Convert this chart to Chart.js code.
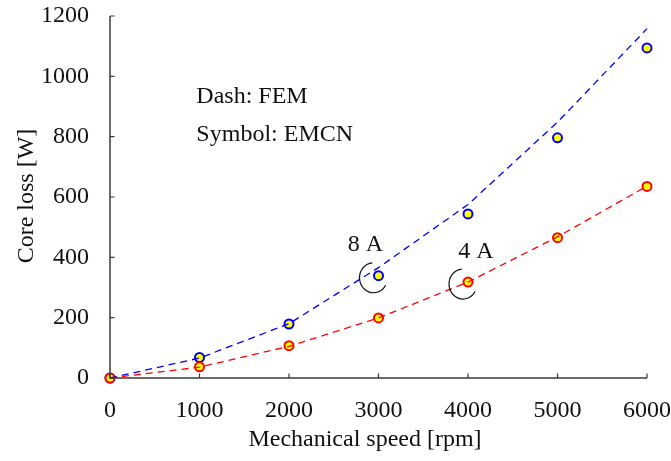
<!DOCTYPE html>
<html>
<head>
<meta charset="utf-8">
<script src="https://cdn.jsdelivr.net/npm/chart.js@4.4.1/dist/chart.umd.min.js"></script>
<style>
  html, body { margin: 0; padding: 0; background: #fff; }
  #wrap { width: 671px; height: 461px; }
</style>
</head>
<body>
<div id="wrap"><canvas id="c" width="671" height="461"></canvas></div>
<script>
// ---- data ----
const speeds = [0, 1000, 2000, 3000, 4000, 5000, 6000];
const fem8A  = [0, 66, 180, 366, 575, 848, 1158];
const emcn8A = [0, 68, 179, 339, 544, 796, 1094];
const fem4A  = [0, 36, 105, 199, 318, 468, 636];
const emcn4A = [0, 37, 107, 199, 318, 465, 635];
const xTicks = [0, 1000, 2000, 3000, 4000, 5000, 6000];
const yTicks = [0, 200, 400, 600, 800, 1000, 1200];
const xTitle = 'Mechanical speed [rpm]';
const yTitle = 'Core loss [W]';
const noteLines = ['Dash: FEM', 'Symbol: EMCN'];
const noteAnchorX = 965;
const noteAnchorY = [932, 806];
const currentLabels = ['8 A', '4 A'];
const currentAtSpeed = [3000, 4000];

const FONT = "'Liberation Serif', serif";
const FS = 24;

const pts = (ys) => speeds.map((s, i) => ({ x: s, y: ys[i] }));

const customDraw = {
  id: 'customDraw',
  afterDraw(chart) {
    const ctx = chart.ctx;
    const xs = chart.scales.x, ys = chart.scales.y;
    const x0 = xs.getPixelForValue(0), y0 = ys.getPixelForValue(0);
    const xEnd = xs.getPixelForValue(6000), yEnd = ys.getPixelForValue(1200);
    ctx.save();
    // axes
    ctx.strokeStyle = '#3a3a3a';
    ctx.lineWidth = 1.5;
    ctx.beginPath();
    ctx.moveTo(x0, yEnd); ctx.lineTo(x0, y0); ctx.lineTo(xEnd, y0);
    ctx.stroke();
    ctx.lineWidth = 1.2;
    ctx.beginPath();
    xTicks.forEach(v => { const p = xs.getPixelForValue(v); ctx.moveTo(p, y0); ctx.lineTo(p, y0 - 4.5); });
    yTicks.forEach(v => { const p = ys.getPixelForValue(v); ctx.moveTo(x0, p); ctx.lineTo(x0 + 4.5, p); });
    ctx.stroke();
    // notes
    ctx.fillStyle = '#111';
    ctx.font = FS + 'px ' + FONT;
    ctx.textAlign = 'left';
    ctx.textBaseline = 'middle';
    noteLines.forEach((t, i) => {
      ctx.fillText(t, xs.getPixelForValue(noteAnchorX), ys.getPixelForValue(noteAnchorY[i]));
    });
    // current labels + arcs
    const series = [emcn8A, emcn4A];
    const lblOff = [[-13, -31], [8, -30]];
    ctx.textAlign = 'center';
    ctx.strokeStyle = '#111';
    ctx.lineWidth = 1.2;
    currentLabels.forEach((t, i) => {
      const idx = speeds.indexOf(currentAtSpeed[i]);
      const px = xs.getPixelForValue(speeds[idx]);
      const py = ys.getPixelForValue(series[i][idx]);
      ctx.fillText(t, px + lblOff[i][0], py + lblOff[i][1]);
      ctx.beginPath();
      ctx.ellipse(px - 5, py + 2, 14, 15, 0, -95 * Math.PI / 180, 30 * Math.PI / 180, true);
      ctx.stroke();
    });
    // axis titles
    ctx.textAlign = 'center';
    ctx.fillText(xTitle, 365, 440);
    ctx.translate(27, 196);
    ctx.rotate(-Math.PI / 2);
    ctx.fillText(yTitle, 0, 0);
    ctx.restore();
  }
};

new Chart(document.getElementById('c'), {
  type: 'scatter',
  data: {
    datasets: [
      { label: 'EMCN 8 A', data: pts(emcn8A), order: 4, showLine: false,
        pointRadius: 4.5, pointBorderWidth: 2, pointBackgroundColor: '#ffff00', pointBorderColor: '#0000ff' },
      { label: 'EMCN 4 A', data: pts(emcn4A), order: 3, showLine: false,
        pointRadius: 4.5, pointBorderWidth: 2, pointBackgroundColor: '#ffff00', pointBorderColor: '#ff0000' },
      { label: 'FEM 8 A', data: pts(fem8A), order: 2, showLine: true, pointRadius: 0,
        borderColor: '#0000ff', borderWidth: 1.3, borderDash: [7, 5], tension: 0 },
      { label: 'FEM 4 A', data: pts(fem4A), order: 1, showLine: true, pointRadius: 0,
        borderColor: '#ff0000', borderWidth: 1.3, borderDash: [7, 5], tension: 0 }
    ]
  },
  options: {
    responsive: false,
    animation: false,
    clip: false,
    layout: { padding: { left: 0, right: 24, top: 16, bottom: 0 } },
    plugins: { legend: { display: false }, tooltip: { enabled: false } },
    scales: {
      x: {
        type: 'linear', min: 0, max: 6000,
        afterBuildTicks: (s) => { s.ticks = xTicks.map(v => ({ value: v })); },
        afterFit: (s) => { s.height = 461 - 16 - 362; s.paddingLeft = 0; s.paddingRight = 0; },
        grid: { display: false }, border: { display: false },
        ticks: { padding: 10, color: '#111', font: { family: FONT, size: FS }, maxRotation: 0,
                 callback: (v) => String(v) }
      },
      y: {
        type: 'linear', min: 0, max: 1200,
        afterBuildTicks: (s) => { s.ticks = yTicks.map(v => ({ value: v })); },
        afterFit: (s) => { s.width = 110; s.paddingTop = 0; s.paddingBottom = 0; },
        grid: { display: false }, border: { display: false },
        ticks: { padding: 13, color: '#111', font: { family: FONT, size: FS },
                 callback: (v) => String(v) }
      }
    }
  },
  plugins: [customDraw]
});
</script>
</body>
</html>
